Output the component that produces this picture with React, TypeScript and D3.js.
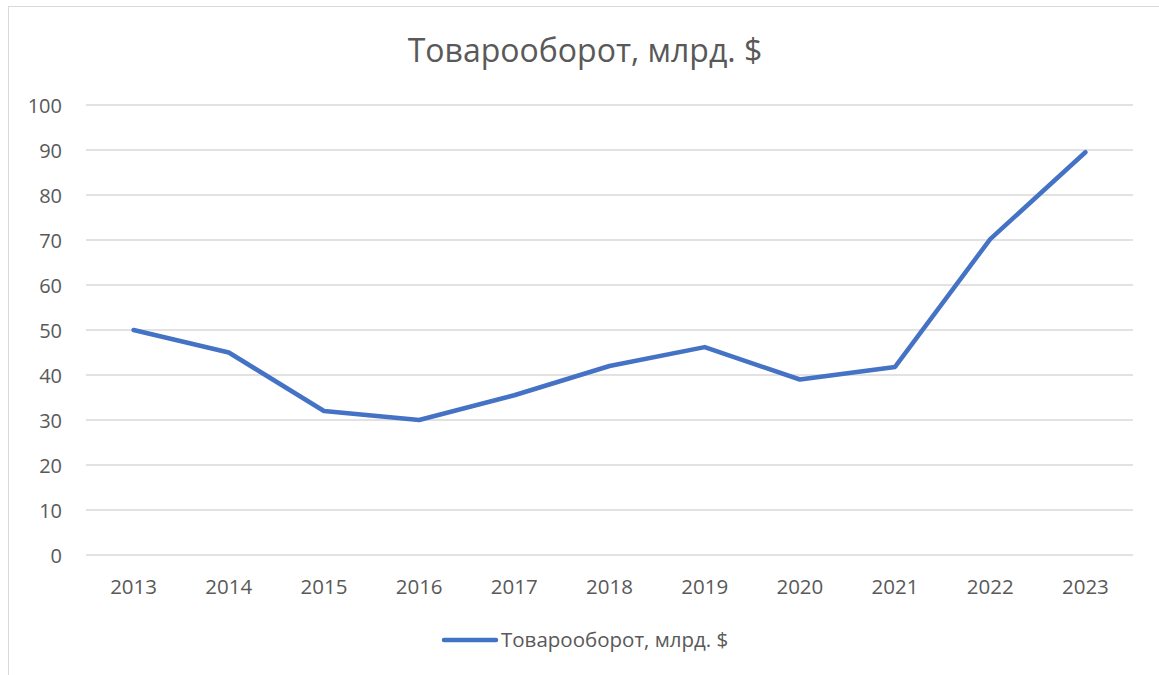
import React, { useEffect, useRef } from 'react';
import * as d3 from 'd3';

const years = ['2013', '2014', '2015', '2016', '2017', '2018', '2019', '2020', '2021', '2022', '2023'];
const turnover = [50, 45, 32, 30, 35.5, 42, 46.2, 39, 41.8, 70.2, 89.5];
const yTicks = [0, 10, 20, 30, 40, 50, 60, 70, 80, 90, 100];
const seriesName = 'Товарооборот, млрд. $';

const W = 1159;
const H = 675;
const FONT = '"Open Sans", "Noto Sans", sans-serif';
const TEXT_COLOR = '#595959';
const LINE_COLOR = '#4472C4';

const App = () => {
  const ref = useRef<SVGSVGElement | null>(null);

  useEffect(() => {
    const svg = d3.select(ref.current);
    svg.selectAll('*').remove();

    const x = d3.scaleBand().domain(years).range([86, 1133]);
    const y = d3.scaleLinear().domain([0, 100]).range([555, 105]);

    // chart frame (runs off the right and bottom of the window)
    svg.append('rect')
      .attr('x', 8.5).attr('y', 6.5)
      .attr('width', W + 20).attr('height', H + 20)
      .attr('fill', 'white')
      .attr('stroke', '#d9d9d9');

    svg.append('text')
      .attr('x', 585).attr('y', 62)
      .attr('text-anchor', 'middle')
      .style('font-family', FONT)
      .style('font-size', '32px')
      .style('fill', TEXT_COLOR)
      .text(seriesName);

    // gridlines
    svg.append('g').selectAll('line')
      .data(yTicks)
      .enter().append('line')
      .attr('x1', 86).attr('x2', 1133)
      .attr('y1', d => y(d)).attr('y2', d => y(d))
      .attr('stroke', '#d9d9d9')
      .attr('stroke-width', 1.3);

    svg.append('g').selectAll('text')
      .data(yTicks)
      .enter().append('text')
      .attr('x', 62).attr('y', d => y(d) + 0.5)
      .attr('dy', '0.35em')
      .attr('text-anchor', 'end')
      .style('font-family', FONT)
      .style('font-size', '20px')
      .style('fill', TEXT_COLOR)
      .text(d => d);

    svg.append('g').selectAll('text')
      .data(years)
      .enter().append('text')
      .attr('x', d => x(d)! + x.bandwidth() / 2)
      .attr('y', 594)
      .attr('text-anchor', 'middle')
      .style('font-family', FONT)
      .style('font-size', '20.5px')
      .style('fill', TEXT_COLOR)
      .text(d => d);

    const line = d3.line<number>()
      .x((_, i) => x(years[i])! + x.bandwidth() / 2)
      .y(d => y(d));

    svg.append('path')
      .datum(turnover)
      .attr('d', line)
      .attr('fill', 'none')
      .attr('stroke', LINE_COLOR)
      .attr('stroke-width', 4.5)
      .attr('stroke-linejoin', 'round')
      .attr('stroke-linecap', 'round');

    // legend
    svg.append('line')
      .attr('x1', 444).attr('x2', 496)
      .attr('y1', 640).attr('y2', 640)
      .attr('stroke', LINE_COLOR)
      .attr('stroke-width', 4.5)
      .attr('stroke-linecap', 'round');

    svg.append('text')
      .attr('x', 501).attr('y', 647)
      .style('font-family', FONT)
      .style('font-size', '20.5px')
      .style('fill', TEXT_COLOR)
      .text(seriesName);
  }, []);

  return (
    <svg
      ref={ref}
      width={W}
      height={H}
      style={{ position: 'fixed', left: 0, top: 0, background: 'white' }}
    />
  );
};

export default App;
